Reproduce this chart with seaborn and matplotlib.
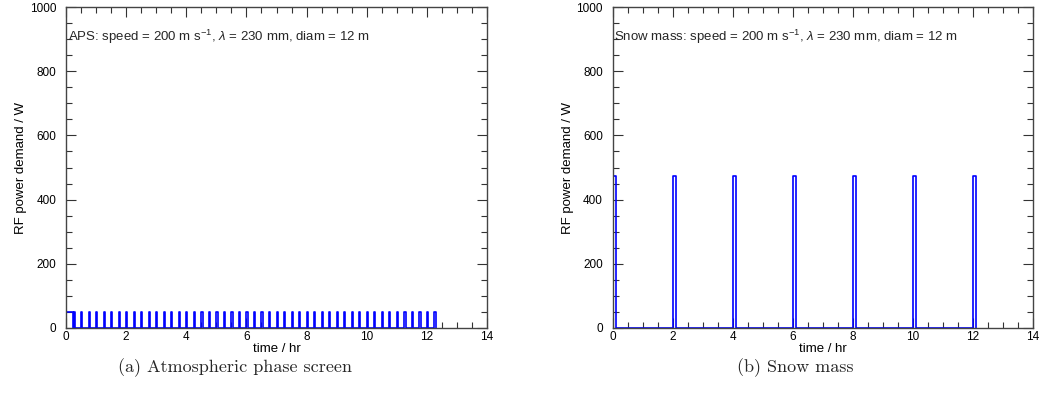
import matplotlib
matplotlib.use("Agg")
import matplotlib.pyplot as plt
import seaborn as sns
import numpy as np
import pandas as pd
from matplotlib.ticker import MultipleLocator

# ---------------- data ----------------
aps_starts = [0.0, 0.25, 0.5, 0.75, 1.0, 1.25, 1.5, 1.75, 2.0, 2.25, 2.5, 2.75,
              3.0, 3.25, 3.5, 3.75, 4.0, 4.25, 4.5, 4.75, 5.0, 5.25, 5.5, 5.75,
              6.0, 6.25, 6.5, 6.75, 7.0, 7.25, 7.5, 7.75, 8.0, 8.25, 8.5, 8.75,
              9.0, 9.25, 9.5, 9.75, 10.0, 10.25, 10.5, 10.75, 11.0, 11.25, 11.5,
              11.75, 12.0, 12.25]
aps_widths = [0.22] + [0.04] * 49
aps_power = [50] * 50

snow_starts = [0.0, 2.0, 4.0, 6.0, 8.0, 10.0, 12.0]
snow_widths = [0.1] * 7
snow_power = [475] * 7

titles = ["APS: speed = 200 m s$^{-1}$, $\\lambda$ = 230 mm, diam = 12 m",
          "Snow mass: speed = 200 m s$^{-1}$, $\\lambda$ = 230 mm, diam = 12 m"]
captions = ["(a) Atmospheric phase screen", "(b) Snow mass"]
xlabel = "time / hr"
ylabel = "RF power demand / W"


def step_frame(starts, widths, power):
    xs, ys = [], []
    for s, w, p in zip(starts, widths, power):
        xs += [s, s, s + w, s + w]
        ys += [0, p, p, 0]
    return pd.DataFrame({"t": xs, "P": ys})


sns.set_theme(style="ticks")
plt.rcParams["font.family"] = ["Liberation Sans", "DejaVu Sans"]
plt.rcParams["mathtext.fontset"] = "custom"
plt.rcParams["mathtext.rm"] = "Liberation Sans"
plt.rcParams["mathtext.it"] = "Liberation Sans:italic"

fig = plt.figure(figsize=(10.42, 4.09), dpi=100)
W, H = 1042, 409
ax1 = fig.add_axes([66 / W, 81 / H, 421 / W, 321 / H])
ax2 = fig.add_axes([612.5 / W, 81 / H, 420.5 / W, 321 / H])

frames = [step_frame(aps_starts, aps_widths, aps_power),
          step_frame(snow_starts, snow_widths, snow_power)]

for ax, df, title in zip([ax1, ax2], frames, titles):
    sns.lineplot(data=df, x="t", y="P", ax=ax, estimator=None, sort=False,
                 color="#0000ff", lw=1.2)
    ax.set_xlim(0, 14)
    ax.set_ylim(0, 1000)
    ax.xaxis.set_major_locator(MultipleLocator(2))
    ax.xaxis.set_minor_locator(MultipleLocator(0.5))
    ax.yaxis.set_major_locator(MultipleLocator(200))
    ax.yaxis.set_minor_locator(MultipleLocator(50))
    ax.tick_params(which="both", direction="in", top=True, right=True,
                   color="#333333", width=0.8, labelsize=8.5,
                   labelcolor="black")
    ax.tick_params(axis="x", which="both", pad=2)
    ax.tick_params(axis="y", which="both", pad=7)
    ax.tick_params(which="major", length=7)
    ax.tick_params(which="minor", length=4)
    for sp in ax.spines.values():
        sp.set_color("#444444")
        sp.set_linewidth(1.0)
    ax.set_xlabel(xlabel, fontsize=9.5, labelpad=0, color="black")
    ax.set_ylabel(ylabel, fontsize=9.5, labelpad=2, color="black")
    ax.text(0.05, 906, title, fontsize=9.5, ha="left", va="center")

for x, cap in zip([235, 795], captions):
    fig.text(x / W, (409 - 368) / H, cap, ha="center", va="center",
             fontsize=13, family=["cmr10", "DejaVu Serif"])

fig.savefig("out.png", dpi=100)
